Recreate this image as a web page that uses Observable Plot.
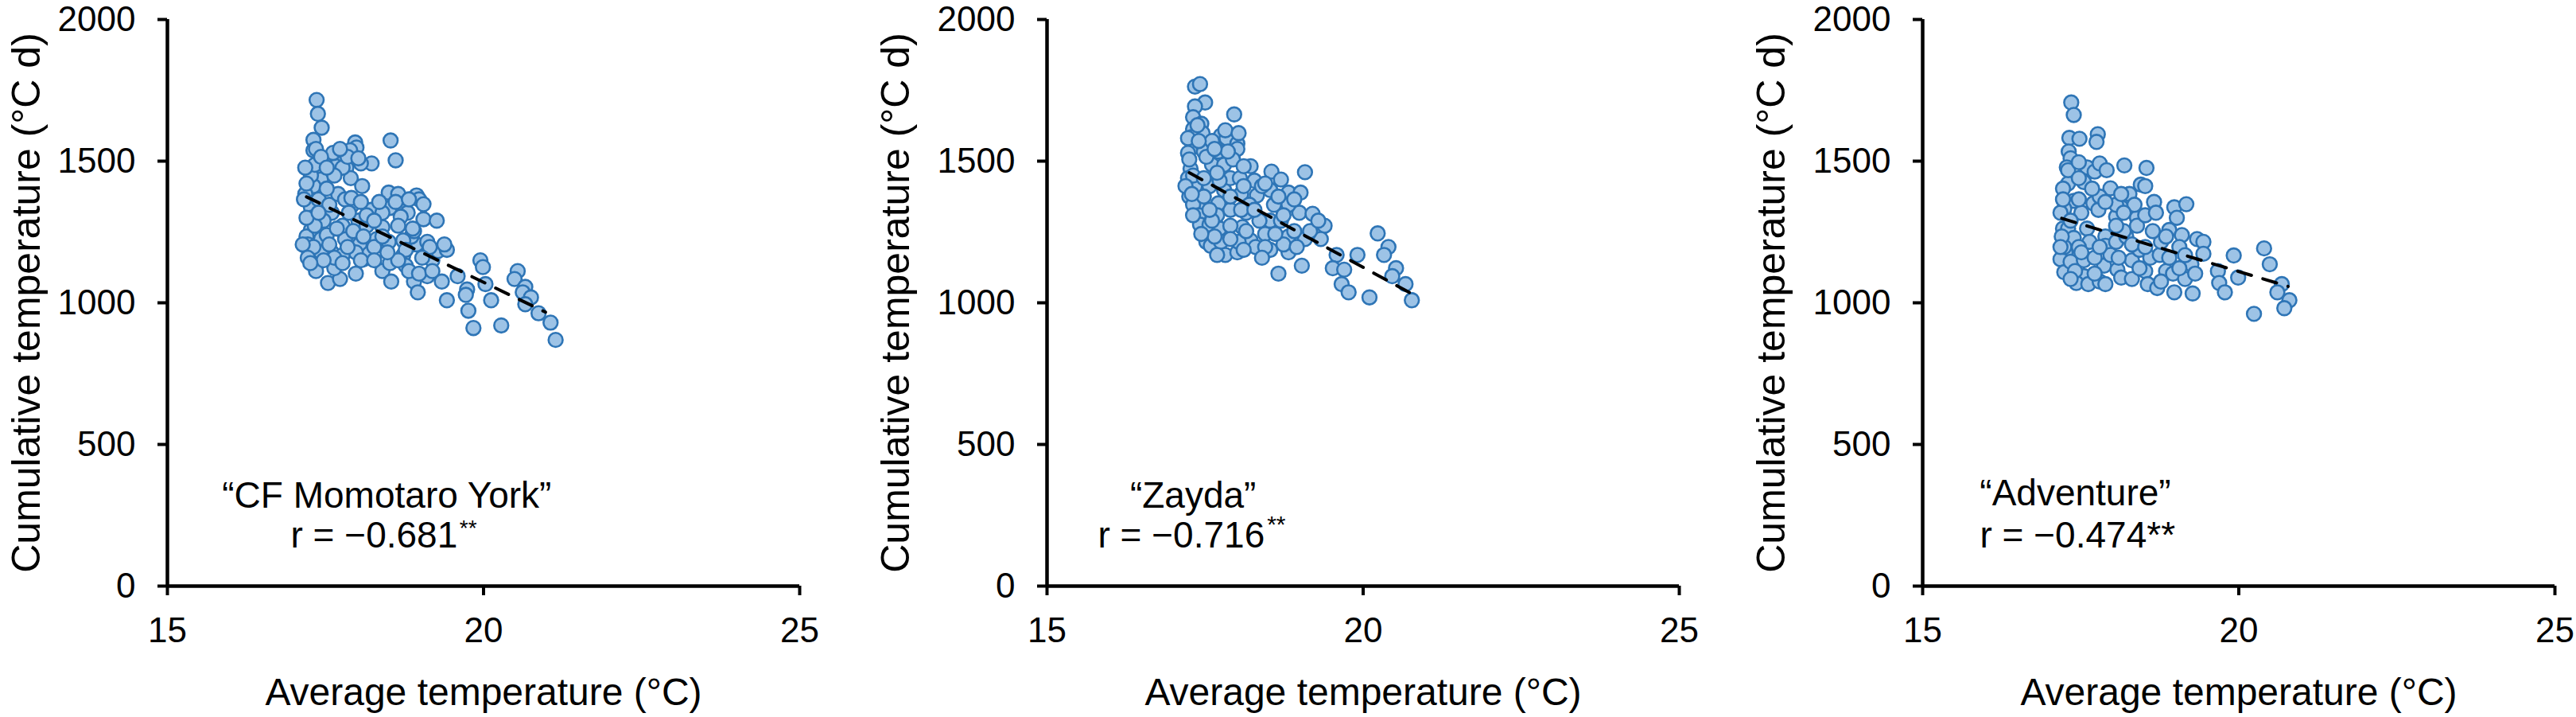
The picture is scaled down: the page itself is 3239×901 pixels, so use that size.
<!DOCTYPE html>
<html><head><meta charset="utf-8">
<script src="https://cdn.jsdelivr.net/npm/d3@7"></script>
<script src="https://cdn.jsdelivr.net/npm/@observablehq/plot@0.6"></script>
<style>
html,body{margin:0;padding:0;background:#fff;overflow:hidden;width:3239px;height:901px}
#wrap{position:relative;width:3239px;height:901px}
.panel{position:absolute;top:0}
</style></head><body><div id="wrap"></div>
<script>
const cultivars = ["“CF Momotaro York”", "“Zayda”", "“Adventure”"];
const rTexts = ["r = −0.681", "r = −0.716", "r = −0.474**"];
const rStars = ["**", "**", ""];
const xTicks = [15, 20, 25];
const yTicks = [0, 500, 1000, 1500, 2000];
const xTitle = "Average temperature (°C)";
const yTitle = "Cumulative temperature (°C d)";

// Panel 1: "CF Momotaro York"
const x1 = [17.36,17.38,17.44,17.31,17.31,18.53,18.61,17.97,17.99,17.89,
18.23,18.06,17.55,17.68,17.66,17.83,17.34,17.43,17.31,17.90,
18.08,17.27,17.33,18.50,18.65,18.94,18.98,19.05,18.52,18.73,
18.80,19.05,19.26,18.23,17.91,17.60,17.47,17.27,17.27,17.27,
17.24,17.24,17.43,17.52,17.81,17.77,18.02,18.40,18.50,18.31,
18.04,18.10,18.19,17.98,17.60,17.77,17.35,17.54,17.73,17.64,
18.40,18.54,18.73,18.77,18.90,18.96,19.11,19.19,19.34,19.28,
19.42,19.38,18.94,18.86,18.73,18.77,19.59,19.95,19.99,20.03,
20.12,19.74,19.72,19.42,19.76,19.84,20.28,20.54,20.49,20.66,
20.62,20.75,20.66,20.87,21.06,21.14,
17.18,17.20,17.22,17.33,17.39,17.56,17.70,17.81,17.68,17.94,
18.15,18.27,18.06,18.52,18.65,18.27,17.43,17.64,17.31,17.20,
17.52,17.35,17.62,17.43,17.77,17.91,18.69,18.90,19.11,18.82,
18.98,19.19,18.40,18.40,
17.18,17.20,17.16,17.14,17.22,17.47,17.85,18.15,18.35,18.61,
18.82,18.88,19.15,19.03,18.48,18.65,17.87,18.06,17.64,17.52,
17.85,18.02,17.73,17.39,17.56,18.10,18.27,17.77,17.26,17.98];
const y1 = [1716,1667,1618,1575,1538,1573,1503,1566,1548,1538,
1492,1492,1507,1520,1482,1477,1473,1435,1412,1440,
1412,1449,1487,1389,1384,1379,1365,1348,1335,1323,
1318,1295,1290,1328,1342,1318,1290,1337,1300,1257,
1197,1178,1225,1239,1225,1272,1290,1267,1215,1225,
1206,1154,1173,1178,1178,1168,1112,1070,1084,1122,
1112,1075,1168,1131,1075,1037,1094,1150,1075,1183,
1187,1206,1206,1234,1220,1187,1094,1150,1126,1066,
1009,1047,1028,1009,972,911,920,1112,1084,1056,
1037,1019,995,963,930,869,
1384,1234,1206,1272,1365,1346,1384,1365,1262,1253,
1272,1197,1150,1140,1150,1150,1178,1159,1197,1300,
1403,1543,1529,1515,1477,1370,1304,1253,1215,1112,
1103,1112,1234,1318,
1477,1421,1365,1206,1159,1150,1197,1309,1356,1356,
1365,1262,1197,1159,1178,1272,1318,1356,1449,1477,
1515,1510,1543,1318,1206,1234,1290,1140,1140,1103];

// Panel 2: "Zayda"
const x2 = [17.34,17.42,17.50,17.34,17.31,17.44,17.31,17.46,17.29,17.34,
17.23,17.48,17.96,17.75,17.84,18.01,18.01,17.71,17.61,17.80,
17.27,17.23,17.34,17.25,17.44,17.31,17.57,17.80,17.90,18.05,
18.22,18.28,18.55,18.70,18.82,19.01,19.08,18.53,18.59,18.32,
18.07,18.15,17.90,17.71,17.40,17.42,17.57,17.73,17.52,17.59,
17.75,17.82,18.01,18.09,18.22,18.30,18.45,18.53,18.53,18.70,
18.82,18.82,19.03,18.66,18.99,19.20,19.33,19.39,19.08,19.33,
19.58,19.52,19.70,19.66,19.77,19.91,20.10,20.23,20.40,20.33,
20.52,20.46,20.67,20.77,18.91,18.36,17.90,17.65,17.48,
17.25,17.61,17.38,17.94,18.11,18.40,18.20,17.31,18.82,17.69,
18.03,18.45,18.74,17.31,17.48,17.73,18.07,17.61,
17.19,17.23,17.40,17.52,17.69,17.86,18.11,18.45,18.66,18.91,
17.90,17.57,17.44,17.90,18.15,18.61,18.95,18.40,18.11,17.69,
19.16,19.29,17.29,17.65,17.82,18.03,18.28,18.74];
const y2 = [1763,1772,1707,1693,1655,1632,1613,1599,1585,1552,
1529,1534,1665,1590,1581,1562,1543,1534,1487,1487,
1473,1440,1412,1375,1346,1346,1412,1398,1440,1440,
1482,1431,1463,1435,1389,1389,1461,1398,1346,1379,
1384,1318,1328,1351,1309,1276,1276,1262,1215,1201,
1215,1169,1178,1267,1220,1197,1243,1187,1290,1290,
1234,1178,1131,1103,1318,1314,1262,1272,1225,1225,
1169,1122,1117,1066,1037,1169,1019,1245,1197,1169,
1122,1094,1066,1009,1253,1290,1272,1234,1375,
1506,1571,1627,1506,1482,1412,1346,1309,1346,1309,
1215,1197,1206,1449,1440,1431,1328,1290,
1412,1581,1571,1515,1459,1534,1412,1421,1375,1365,
1375,1328,1243,1225,1253,1243,1197,1159,1187,1169,
1253,1290,1384,1543,1609,1599,1328,1309];

// Panel 3: "Adventure"
const x3 = [17.35,17.39,17.32,17.48,17.77,17.75,17.31,17.34,17.28,17.60,
17.72,17.80,17.91,18.19,18.54,17.55,17.30,17.22,17.97,18.45,
18.52,18.27,18.66,17.70,17.39,17.24,17.22,17.30,17.51,17.78,
18.06,18.14,18.39,18.39,18.52,18.98,19.17,19.02,18.90,19.10,
17.60,17.89,17.89,17.64,17.39,17.26,17.18,17.24,17.34,17.55,
17.55,17.43,17.62,17.80,17.87,18.08,18.14,18.31,18.43,18.52,
18.60,18.75,18.56,18.71,18.85,18.96,18.98,19.15,19.25,19.31,
19.27,19.34,19.44,19.44,19.67,19.69,19.78,19.99,19.92,20.40,
20.49,20.68,20.61,20.80,20.72,20.24,18.06,18.22,17.72,17.97,18.77,19.06,
17.30,17.47,17.24,17.47,18.18,18.64,18.31,17.80,18.06,17.41,
17.18,17.20,17.18,17.34,17.47,17.68,17.89,18.14,18.35,18.69,
18.85,18.31,18.43,18.10,17.72,17.34,17.51,17.80,18.06,18.52,
18.90,19.06,18.77,17.89,17.47,17.22,18.18,19.15];
const y3 = [1707,1663,1582,1579,1595,1568,1534,1510,1478,1478,
1463,1492,1468,1485,1476,1426,1421,1403,1404,1417,
1412,1384,1356,1351,1360,1332,1262,1262,1318,1328,
1304,1337,1300,1272,1309,1337,1348,1300,1257,1239,
1262,1234,1201,1215,1229,1178,1154,1108,1145,1150,
1094,1070,1066,1075,1131,1117,1089,1150,1187,1112,
1159,1169,1066,1052,1112,1103,1037,1084,1136,1103,
1033,1225,1215,1173,1112,1070,1037,1089,1167,1192,
1136,1066,1037,1009,981,961,1215,1234,1159,1169,1215,1197,
1468,1440,1197,1197,1253,1253,1084,1375,1346,1112,
1318,1234,1197,1290,1365,1403,1356,1384,1346,1318,
1234,1206,1122,1159,1103,1084,1178,1197,1272,1197,
1159,1122,1075,1066,1496,1365,1318,1168];

// Regression (dashed) lines: end points
const trendX = [[17.20, 20.98], [17.25, 20.80], [17.20, 20.78]];
const trendY = [[1374, 967], [1459, 1028], [1298, 1058]];

// Annotation anchors (data coordinates)
const nameX = [18.47, 17.31, 17.415];
const nameY = [278, 278, 284];
const rX = [16.95, 15.805, 17.45];
const rY = [135, 135, 135];
const starX = [19.62, 18.48, 0];
const starY = [178, 190, 0];
const starSize = [28, 30, 0];

const panelLeft = [0, 1106, 2207];
const titleOffset = [161, 174, 174];

const allX = [x1, x2, x3], allY = [y1, y2, y3];
const FONT = "'Liberation Sans', Arial, Helvetica, sans-serif";
const wrap = document.getElementById("wrap");

for (let i = 0; i < 3; i++) {
  const pts = allX[i].map((x, k) => ({x, y: allY[i][k]}));
  const trend = trendX[i].map((x, k) => ({x, y: trendY[i][k]}));
  const W = 1030;
  const marks = [
    Plot.axisX({ticks: xTicks, tickSize: 12, tickPadding: 27, fontSize: 44, strokeWidth: 4, label: null, tickFormat: d => String(d)}),
    Plot.axisY({ticks: yTicks, tickSize: 12, tickPadding: 28, fontSize: 44, strokeWidth: 4, label: null, tickFormat: d => String(d)}),
    Plot.ruleX([15], {y1: 0, y2: 2000, stroke: "#000", strokeWidth: 4.5}),
    Plot.ruleY([0], {x1: 15, x2: 25, stroke: "#000", strokeWidth: 4.5}),
    Plot.dot(pts, {x: "x", y: "y", r: 8.9, fill: "#9DC3E6", stroke: "#2E75B6", strokeWidth: 2.6}),
    Plot.line(trend, {x: "x", y: "y", stroke: "#000", strokeWidth: 4, strokeDasharray: "18,15"}),
    Plot.text([{x: nameX[i], y: nameY[i], t: cultivars[i]}], {x: "x", y: "y", text: "t", fontSize: 46, textAnchor: "middle", lineAnchor: "bottom", fill: "#000"}),
    Plot.text([{x: rX[i], y: rY[i], t: rTexts[i]}], {x: "x", y: "y", text: "t", fontSize: 46, textAnchor: i === 2 ? "middle" : "start", lineAnchor: "bottom", fill: "#000"}),
    Plot.text([xTitle], {text: d => d, frameAnchor: "bottom", dy: 149, lineAnchor: "bottom", fontSize: 48, fill: "#000"}),
    Plot.text([yTitle], {text: d => d, frameAnchor: "left", dx: -titleOffset[i], rotate: -90, textAnchor: "middle", lineAnchor: "bottom", fontSize: 50, fill: "#000"})
  ];
  if (rStars[i]) {
    marks.push(Plot.text([{x: starX[i], y: starY[i], t: rStars[i]}], {x: "x", y: "y", text: "t", fontSize: starSize[i], textAnchor: "start", lineAnchor: "bottom", fill: "#000"}));
  }
  const chart = Plot.plot({
    width: W, height: 901,
    marginLeft: 210, marginRight: W - 1005, marginTop: 24, marginBottom: 165,
    style: {fontFamily: FONT, color: "#000", background: "#fff", overflow: "visible"},
    x: {domain: [15, 25], label: null},
    y: {domain: [0, 2000], label: null},
    marks
  });
  const div = document.createElement("div");
  div.className = "panel";
  div.style.left = panelLeft[i] + "px";
  div.appendChild(chart);
  wrap.appendChild(div);
}
</script>
</body></html>
